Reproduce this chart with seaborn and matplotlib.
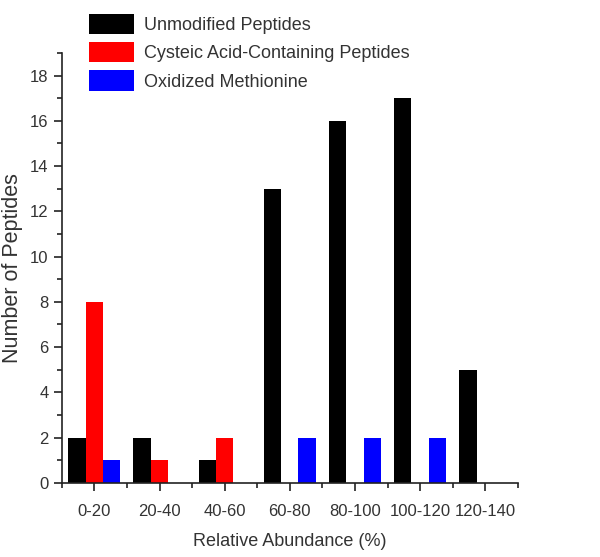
import matplotlib
matplotlib.use("Agg")
import matplotlib.pyplot as plt
import pandas as pd
import seaborn as sns
from matplotlib.ticker import MultipleLocator, FixedLocator

# Data
bins = ['0-20', '20-40', '40-60', '60-80', '80-100', '100-120', '120-140']
unmodified = [2, 2, 1, 13, 16, 17, 5]
cysteic = [8, 1, 2, 0, 0, 0, 0]
oxidized = [1, 0, 0, 2, 2, 2, 0]
series_names = ['Unmodified Peptides', 'Cysteic Acid-Containing Peptides', 'Oxidized Methionine']
colors = ['#000000', '#ff0000', '#0000ff']

df = pd.DataFrame({
    'bin': bins * 3,
    'count': unmodified + cysteic + oxidized,
    'series': [series_names[0]] * len(bins) + [series_names[1]] * len(bins) + [series_names[2]] * len(bins),
})

sns.set_style("ticks")
plt.rcParams['font.family'] = ['Liberation Sans', 'DejaVu Sans']

fig = plt.figure(figsize=(6, 5.57), dpi=100)
ax = fig.add_axes([0.103, 0.133, 0.760, 0.772])

sns.barplot(data=df, x='bin', y='count', hue='series', order=bins, hue_order=series_names,
            palette=colors, width=0.8, linewidth=0, saturation=1, ax=ax)

ax.set_xlim(-0.5, len(bins) - 0.5)
ax.set_ylim(0, 19)
ax.yaxis.set_major_locator(MultipleLocator(2))
ax.yaxis.set_minor_locator(MultipleLocator(1))
ax.xaxis.set_minor_locator(FixedLocator([i - 0.5 for i in range(len(bins) + 1)]))

ax.tick_params(axis='both', which='major', direction='out', length=6, width=1.2,
               labelsize=12, colors='#222222', labelcolor='#333333')
ax.tick_params(axis='both', which='minor', direction='out', length=3.5, width=1.2, colors='#222222')
ax.tick_params(axis='x', which='major', pad=9.5)

for side in ['top', 'right']:
    ax.spines[side].set_visible(False)
for side in ['left', 'bottom']:
    ax.spines[side].set_linewidth(1.2)
    ax.spines[side].set_color('#222222')

ax.set_xlabel('Relative Abundance (%)', fontsize=13, color='#333333', labelpad=10)
ax.set_ylabel('Number of Peptides', fontsize=15.5, color='#333333', labelpad=5)

ax.legend(loc='upper left', bbox_to_anchor=(0.13, 0.995), bbox_transform=fig.transFigure,
          frameon=False, fontsize=13, handlelength=2.5, handleheight=1.35,
          handletextpad=0.55, labelspacing=0.45, borderaxespad=0.2, labelcolor='#333333')

fig.savefig('out.png', dpi=100)
